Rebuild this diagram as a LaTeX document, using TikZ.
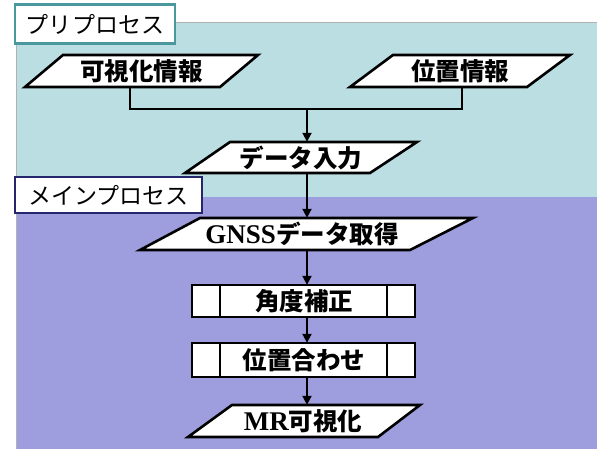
\documentclass[tikz,border=0pt]{standalone}
\usepackage{fontspec}
\setmainfont{Liberation Serif}
\newfontfamily\cjk{Noto Sans CJK JP}
\usetikzlibrary{arrows.meta}
\definecolor{precol}{RGB}{187,222,226}
\definecolor{maincol}{RGB}{158,158,222}
\definecolor{tealb}{RGB}{74,152,158}
\definecolor{navyb}{RGB}{38,38,108}
\newcommand{\latn}[1]{{\rmfamily\bfseries\fontsize{27bp}{28bp}\selectfont #1}}
\tikzset{
  pshape/.style={draw=black, fill=white, line width=2.6bp, line join=miter},
  boxshape/.style={draw=black, fill=white, line width=2.6bp},
  ptext/.style={inner sep=0pt, minimum height=32bp, font=\cjk\bfseries\fontsize{24.5bp}{28bp}\selectfont},
  lbl/.style={fill=white, line width=2.6bp, inner sep=0pt, font=\cjk\fontsize{23bp}{26bp}\selectfont},
  conn/.style={line width=2bp, draw=black},
  arr/.style={conn, -{Triangle[width=9bp,length=9bp]}},
}
\begin{document}
\begin{tikzpicture}[x=1bp,y=-1bp]
\useasboundingbox (0,0) rectangle (597,449);
% backgrounds
\fill[precol] (16,22) rectangle (597,197);
\fill[maincol] (16,197) rectangle (597,449);
\draw[black!30, line width=0.8bp] (16,449) -- (16,22) -- (597,22);
% labels
\node[lbl, draw=tealb, minimum width=160bp, minimum height=39bp] (prel) at (95,24) {プリプロセス};
% parallelogram shapes
\draw[pshape] (25,87) -- (63,55) -- (258,55) -- (220,87) -- cycle;
\node[ptext] (vis) at (141.5,71) {可視化情報};
\draw[pshape] (350,87) -- (393,55) -- (570,55) -- (527,87) -- cycle;
\node[ptext] (pos) at (460,71) {位置情報};
\draw[pshape] (185,173) -- (230,142) -- (417,142) -- (370,173) -- cycle;
\node[ptext, minimum height=31bp] (inp) at (301,157.5) {データ入力};
\draw[pshape] (140,250) -- (200,218) -- (473,218) -- (410,250) -- cycle;
\node[ptext] (gnss) at (302,234) {\latn{GNSS}データ取得};
\draw[boxshape] (192,285) rectangle (415,317);
\draw[boxshape] (220,285) -- (220,317) (387,285) -- (387,317);
\node[ptext] (kaku) at (304,301) {角度補正};
\draw[boxshape] (192,343) rectangle (415,377);
\draw[boxshape] (220,343) -- (220,377) (387,343) -- (387,377);
\node[ptext, minimum height=34bp] (awase) at (304,360) {位置合わせ};
\draw[pshape] (188,437) -- (232,405) -- (420,405) -- (378,437) -- cycle;
\node[ptext] (mr) at (303,421) {\latn{MR}可視化};
\node[lbl, draw=navyb, minimum width=187bp, minimum height=36bp] (mainl) at (108.5,195) {メインプロセス};
% connectors
\coordinate (jn) at (307,109);
\coordinate (lx) at (130,0);
\coordinate (rx) at (462,0);
\draw[conn] (vis.south -| lx) |- (jn) -| (pos.south -| rx);
\draw[arr] (jn) -- (inp.north -| jn);
\draw[arr] (inp.south -| jn) -- (gnss.north -| jn);
\draw[arr] (gnss.south -| jn) -- (kaku.north -| jn);
\draw[arr] (kaku.south -| jn) -- (awase.north -| jn);
\draw[arr] (awase.south -| jn) -- (mr.north -| jn);
\end{tikzpicture}
\end{document}
